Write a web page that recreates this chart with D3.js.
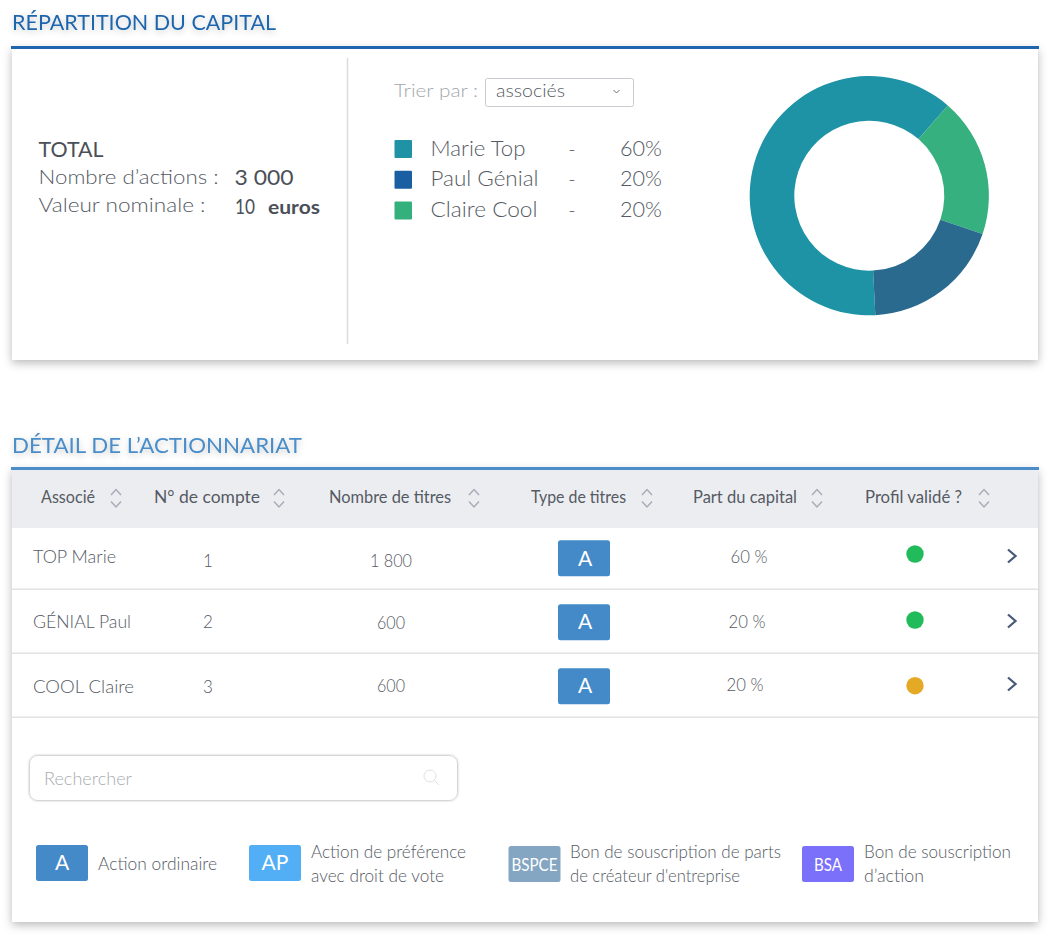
<!DOCTYPE html>
<html><head><meta charset="utf-8">
<script src="https://cdn.jsdelivr.net/npm/d3@7/dist/d3.min.js"></script>
<style>html,body{margin:0;padding:0;background:#fff}svg{display:block}text{font-family:Lato,"Open Sans",sans-serif}</style>
</head><body><svg id="c" width="1054" height="938"></svg>
<script>
const holders=["Marie Top","Paul Génial","Claire Cool"];
const legendPct=["60%","20%","20%"];
const legendColors=["#1f93a5","#1b5fa3","#34b07c"];
const sliceNames=["Marie Top","Claire Cool","Paul Génial"];
const sliceValues=[62.2,18.8,19.0];
const sliceColors=["#1e93a6","#36b07e","#2a6a8f"];
const columns=["Associé","N° de compte","Nombre de titres","Type de titres","Part du capital","Profil validé ?"];
const rowNames=["TOP Marie","GÉNIAL Paul","COOL Claire"];
const rowAccounts=["1","2","3"];
const rowShares=["1 800","600","600"];
const rowTypes=["A","A","A"];
const rowParts=["60 %","20 %","20 %"];
const rowStatus=["#22bb5b","#22bb5b","#e4aa26"];
const keyCodes=["A","AP","BSPCE","BSA"];
const keyColors=["#4489c8","#52aef5","#85a6c2","#7b70f9"];
const keyLines=[["Action ordinaire"],["Action de préférence","avec droit de vote"],["Bon de souscription de parts","de créateur d'entreprise"],["Bon de souscription","d’action"]];

const ink="#555a63";
const svg=d3.select("#c");
const defs=svg.append("defs");
const sh=defs.append("filter").attr("id","sh").attr("x","-5%").attr("y","-10%").attr("width","110%").attr("height","125%");
sh.append("feDropShadow").attr("dx",0).attr("dy",3).attr("stdDeviation",5).attr("flood-color","#000").attr("flood-opacity",.28);
const ts=defs.append("filter").attr("id","ts").attr("x","-10%").attr("y","-50%").attr("width","120%").attr("height","220%");
ts.append("feDropShadow").attr("dx",0).attr("dy",2).attr("stdDeviation",3).attr("flood-color","#000").attr("flood-opacity",.22);
const ss=defs.append("filter").attr("id","ss").attr("x","-3%").attr("y","-15%").attr("width","106%").attr("height","130%");
ss.append("feDropShadow").attr("dx",0).attr("dy",0).attr("stdDeviation",1.2).attr("flood-color","#000").attr("flood-opacity",.2);

function T(x,y,s,size,color,w,len,anchor){
  const t=svg.append("text").attr("x",x).attr("y",y).text(s).attr("font-size",size).attr("fill",color).attr("font-weight",w||400).attr("text-anchor",anchor||"start");
  if(len) t.attr("textLength",len).attr("lengthAdjust","spacingAndGlyphs");
  return t;
}
// panels
svg.append("rect").attr("x",12).attr("y",47).attr("width",1026).attr("height",313).attr("fill","#fff").attr("filter","url(#sh)");
svg.append("rect").attr("x",11).attr("y",46).attr("width",1028).attr("height",3).attr("fill","#1f66ae");
svg.append("rect").attr("x",12).attr("y",468).attr("width",1026).attr("height",454).attr("fill","#fff").attr("filter","url(#sh)");
svg.append("rect").attr("x",12).attr("y",470).attr("width",1026).attr("height",58).attr("fill","#ecedf1");
svg.append("rect").attr("x",11).attr("y",467).attr("width",1028).attr("height",3).attr("fill","#4a8dc9");
T(12,30,"RÉPARTITION DU CAPITAL",21.5,"#1f66ae",400,264).attr("filter","url(#ts)");
T(12,452.7,"DÉTAIL DE L’ACTIONNARIAT",21.5,"#4a8dc9",400,290).attr("filter","url(#ts)");
svg.append("line").attr("x1",347.5).attr("x2",347.5).attr("y1",58).attr("y2",344).attr("stroke","#dcdcdc").attr("stroke-width",1.5);

// totals
T(38.5,157,"TOTAL",21,"#4b5058",400,65);
T(38.5,184,"Nombre d’actions :",20,ink,300,180);
T(38.5,212,"Valeur nominale :",20,ink,300,167);
T(234.5,185,"3 000",21,"#4b5058",400,59);
T(235,214,"10",21,"#4b5058",400,20);
T(268,214,"euros",18,"#4b5058",700,52);

// sort select
T(394,97,"Trier par :",18,"#a3a7ad",300,84);
svg.append("rect").attr("x",485.5).attr("y",78.5).attr("width",148).attr("height",28).attr("rx",2).attr("fill","#fff").attr("stroke","#c9ccd0");
T(496,97,"associés",18,ink,300,69);
svg.append("path").attr("d",d3.line()([[613.5,90],[616.5,93],[619.5,90]])).attr("fill","none").attr("stroke","#6a6f76");

// legend
const ly=d3.scalePoint().domain(holders).range([149,210.5]);
holders.forEach((h,i)=>{
  const y=ly(h);
  svg.append("rect").attr("x",394.5).attr("y",y-9).attr("width",17.5).attr("height",18).attr("rx",1).attr("fill",legendColors[i]);
  T(430.5,y+6.5,h,21,ink,300,[95,108,107][i]);
  T(572,y+6.5,"-",20,ink,300,null,"middle");
  T(620,y+6.5,legendPct[i],21,ink,300,42);
});

// donut
const pie=d3.pie().sort(null).value(d=>d).startAngle(177.1*Math.PI/180).endAngle(537.1*Math.PI/180);
const arc=d3.arc().innerRadius(75).outerRadius(119.6);
svg.append("g").attr("transform","translate(869.3,195.7)").selectAll("path").data(pie(sliceValues)).join("path").attr("d",arc).attr("fill",(d,i)=>sliceColors[i]);

// header
const colX=[41,154,329,531,693,865],colW=[54,106,122,95,104,97],arrowX=[116,279,474,647,817,984];
columns.forEach((c,i)=>{
  T(colX[i],503,c,17,ink,400,colW[i]);
  const a=arrowX[i];
  svg.append("path").attr("d",d3.line()([[a-5,495],[a,489.5],[a+5,495]])).attr("fill","none").attr("stroke","#a7adb8").attr("stroke-width",1.5);
  svg.append("path").attr("d",d3.line()([[a-5,501.5],[a,507],[a+5,501.5]])).attr("fill","none").attr("stroke","#a7adb8").attr("stroke-width",1.5);
});
// rows
const rowLine=[589,653,717];
const nameBase=[563.3,628,692.7], accBase=[566.7,627.7,692.7], shareBase=[566.7,629,691.7];
const boxTop=[540.3,604.3,668.3], letterBase=[565.7,629.3,693.3], partBase=[563.3,628,691];
const dotY=[554,620,685.7], chevY=[556,621,684];
rowNames.forEach((n,i)=>{
  svg.append("rect").attr("x",12).attr("y",rowLine[i]-.5).attr("width",1026).attr("height",1.4).attr("fill","#dfe0e2");
  T(33,nameBase[i],n,18,ink,300,[83,98,101][i]);
  T(208,accBase[i],rowAccounts[i],17,ink,300,null,"middle");
  T(391,shareBase[i],rowShares[i],18,ink,300,i==0?42:28,"middle");
  svg.append("rect").attr("x",558).attr("y",boxTop[i]).attr("width",52).attr("height",36).attr("rx",2.5).attr("fill","#4489c8");
  T(585,letterBase[i],rowTypes[i],21,"#fff",400,null,"middle");
  T([749,747,745][i],partBase[i],rowParts[i],17,ink,300,37,"middle");
  svg.append("circle").attr("cx",915).attr("cy",dotY[i]).attr("r",8.7).attr("fill",rowStatus[i]);
  const cy=chevY[i];
  svg.append("path").attr("d",d3.line()([[1008,cy-6.5],[1015.5,cy],[1008,cy+6.5]])).attr("fill","none").attr("stroke","#4b5a78").attr("stroke-width",2.3);
});

// search
svg.append("rect").attr("x",29.5).attr("y",755.5).attr("width",428).attr("height",45).attr("rx",8).attr("fill","#fff").attr("stroke","#d4d5d7").attr("stroke-width",1).attr("filter","url(#ss)");
T(44,785,"Rechercher",18,"#a9acb1",300,88);
svg.append("circle").attr("cx",430).attr("cy",776).attr("r",6).attr("fill","none").attr("stroke","#dfe1e4");
svg.append("line").attr("x1",434.5).attr("y1",780.5).attr("x2",439).attr("y2",785).attr("stroke","#dfe1e4");

// key
const keyX=[36,249,508.5,802],keyW=[52,52,52,52],keyText=[98,311,570,864];
const keyY=[845,845,846,846];
const lineW=[[119],[155,133],[211,170],[147,60]];
keyCodes.forEach((k,i)=>{
  svg.append("rect").attr("x",keyX[i]).attr("y",keyY[i]).attr("width",keyW[i]).attr("height",36).attr("rx",2.5).attr("fill",keyColors[i]);
  T(keyX[i]+26,i<2?870:871,k,i<2?21:17,"#fff",400,i==2?46:(i==3?28:null),"middle");
  keyLines[i].forEach((l,j)=>{
    const y=keyLines[i].length==1?869.5:858+j*23.5;
    T(keyText[i],y,l,18,ink,300,lineW[i][j]);
  });
});
</script></body></html>
